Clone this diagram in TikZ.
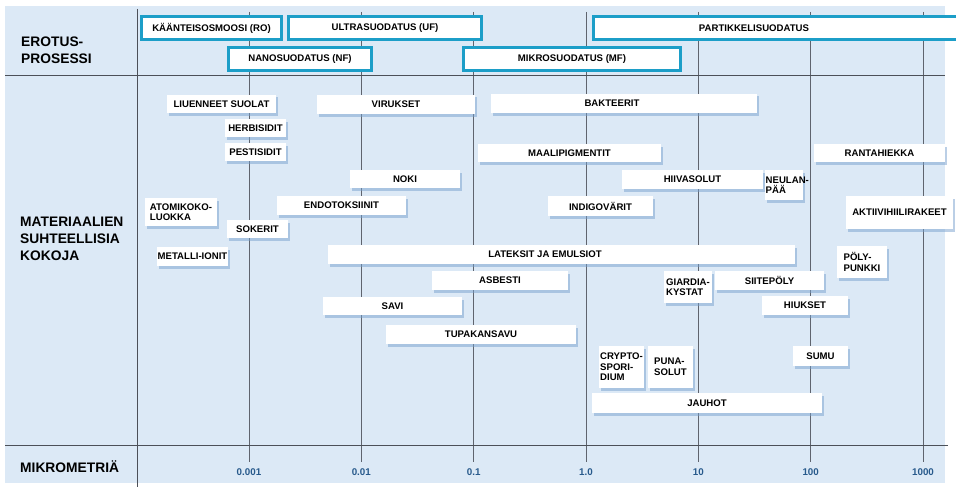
\documentclass[tikz,border=0pt]{standalone}
\usepackage{fontspec}
\setmainfont{Liberation Sans}
\usetikzlibrary{shadows}
\definecolor{panelc}{RGB}{220,233,246}
\definecolor{gridc}{RGB}{95,100,110}
\definecolor{procc}{RGB}{28,158,200}
\definecolor{shadc}{RGB}{120,160,205}
\definecolor{tickc}{RGB}{40,90,140}
\newcommand\bxf{\fontsize{9.6}{10.6}\selectfont\bfseries}
\newcommand\sdf{\fontsize{13.8}{17}\selectfont\bfseries}
\newcommand\tkf{\fontsize{9.8}{11}\selectfont\bfseries}
\tikzset{
  gridl/.style={draw=gridc, line width=0.7pt},
  divl/.style={draw=gridc!80!black, line width=1pt},
  procbox/.style={draw=procc, line width=3pt, fill=white, inner sep=0pt, font=\bxf},
  matbox/.style={fill=white, inner sep=1pt, font=\bxf, align=left,
    drop shadow={shadow xshift=2pt, shadow yshift=-2.5pt, fill=shadc, opacity=0.5}},
  mtext/.style={font=\bxf, inner sep=0pt, align=left},
  sidelab/.style={font=\sdf, anchor=west, align=left, inner sep=0pt},
  ticklab/.style={font=\tkf, text=tickc, inner sep=0pt},
}
\begin{document}
\begin{tikzpicture}[x=1pt,y=-1pt]
\useasboundingbox (0,0) rectangle (965,492);
% panel
\fill[panelc] (5,6) rectangle (945,483);
% grid lines
\foreach \k/\nm in {0/g1,1/g2,2/g3,3/g4,4/g5,5/g6,6/g7}{
  \coordinate (\nm t) at ({249+112.33*\k},12);
  \coordinate (\nm b) at ({249+112.33*\k},462);
  \draw[gridl] (\nm t) -- (\nm b);
}
% dividers
\coordinate (h1a) at (5,76);  \coordinate (h1b) at (945,76);
\coordinate (h2a) at (5,445); \coordinate (h2b) at (948,445);
\coordinate (vsa) at (137,9); \coordinate (vsb) at (137,487);
\draw[divl] (h1a) -- (h1b);
\draw[divl] (h2a) -- (h2b);
\draw[divl] (vsa) -- (vsb);
% process boxes
\node[procbox, minimum width=140pt, minimum height=23pt] (ro) at (211.5,28) {KÄÄNTEISOSMOOSI (RO)};
\node[procbox, minimum width=193pt, minimum height=23pt] (uf) at (385,28) {ULTRASUODATUS (UF)};
\node[procbox, minimum width=143pt, minimum height=23pt] (nf) at (300,59) {NANOSUODATUS (NF)};
\node[procbox, minimum width=217pt, minimum height=23pt] (mf) at (572,59) {MIKROSUODATUS (MF)};
\coordinate (pa) at (956,16.5); \coordinate (pb) at (593.5,16.5);
\coordinate (pc) at (593.5,39.5); \coordinate (pd) at (956,39.5);
\fill[white] (pa) -- (pb) -- (pc) -- (pd) -- cycle;
\draw[draw=procc, line width=3pt] (pa) -- (pb) -- (pc) -- (pd);
\node[mtext] (pf) at (754,28) {PARTIKKELISUODATUS};
% material boxes
\node[matbox, minimum width=109pt, minimum height=18pt] (m1) at (221.5,104) {LIUENNEET SUOLAT};
\node[matbox, minimum width=158pt, minimum height=19pt] (m2) at (396,104.5) {VIRUKSET};
\node[matbox, minimum width=266pt, minimum height=19pt] (m3) at (624,103.5) {};
\node[mtext] (m3t) at (612,103.5) {BAKTEERIT};
\node[matbox, minimum width=61pt, minimum height=18pt] (m4) at (255.5,128) {HERBISIDIT};
\node[matbox, minimum width=61pt, minimum height=18pt] (m5) at (255.5,152) {PESTISIDIT};
\node[matbox, minimum width=183pt, minimum height=18pt] (m6) at (569.5,153) {MAALIPIGMENTIT};
\node[matbox, minimum width=131pt, minimum height=18pt] (m7) at (879.5,153) {RANTAHIEKKA};
\node[matbox, minimum width=110pt, minimum height=18pt] (m8) at (405,179) {NOKI};
\node[matbox, minimum width=141pt, minimum height=19pt] (m9) at (692.5,179.5) {HIIVASOLUT};
\node[matbox, minimum width=38pt, minimum height=30pt] (m10) at (784,185) {};
\node[mtext, anchor=west] (m10t) at (765.5,185) {NEULAN-\\PÄÄ};
\node[matbox, minimum width=129pt, minimum height=19pt] (m11) at (341.5,205.5) {ENDOTOKSIINIT};
\node[matbox, minimum width=105pt, minimum height=20pt] (m12) at (600.5,206) {INDIGOVÄRIT};
\node[matbox, minimum width=72pt, minimum height=28pt] (m13) at (181,212) {ATOMIKOKO-\\LUOKKA};
\node[matbox, minimum width=107pt, minimum height=33pt] (m14) at (899.5,212.5) {AKTIIVIHIILIRAKEET};
\node[matbox, minimum width=61pt, minimum height=18pt] (m15) at (257.5,229) {SOKERIT};
\node[matbox, minimum width=71pt, minimum height=19pt] (m16) at (192.5,256.5) {METALLI-IONIT};
\node[matbox, minimum width=467pt, minimum height=19pt] (m17) at (561.5,254.5) {};
\node[mtext] (m17t) at (545,254.5) {LATEKSIT JA EMULSIOT};
\node[matbox, minimum width=50pt, minimum height=32pt] (m18) at (862,262) {PÖLY-\\PUNKKI};
\node[matbox, minimum width=136pt, minimum height=19pt] (m19) at (500,280.5) {ASBESTI};
\node[matbox, minimum width=48pt, minimum height=32pt] (m20) at (688,287) {GIARDIA-\\KYSTAT};
\node[matbox, minimum width=109pt, minimum height=19pt] (m21) at (769.5,280.5) {SIITEPÖLY};
\node[matbox, minimum width=139pt, minimum height=18pt] (m22) at (392.5,306) {SAVI};
\node[matbox, minimum width=86pt, minimum height=19pt] (m23) at (805,305.5) {HIUKSET};
\node[matbox, minimum width=190pt, minimum height=19pt] (m24) at (481,334.5) {TUPAKANSAVU};
\node[matbox, minimum width=45pt, minimum height=42pt] (m25) at (621.5,367) {};
\node[mtext, anchor=west] (m25t) at (600,367) {CRYPTO-\\SPORI-\\DIUM};
\node[matbox, minimum width=45pt, minimum height=42pt] (m26) at (670.5,367) {PUNA-\\SOLUT};
\node[matbox, minimum width=55pt, minimum height=20pt] (m27) at (820.5,356) {SUMU};
\node[matbox, minimum width=230pt, minimum height=20pt] (m28) at (707,403) {JAUHOT};
% side labels
\node[sidelab] (s1) at (21,50.5) {EROTUS-\\PROSESSI};
\node[sidelab] (s2) at (20,238.5) {MATERIAALIEN\\SUHTEELLISIA\\KOKOJA};
\node[sidelab] (s3) at (20,467) {MIKROMETRIÄ};
% tick labels
\node[ticklab] (k1) at (249,472) {0.001};
\node[ticklab] (k2) at (361.3,472) {0.01};
\node[ticklab] (k3) at (473.7,472) {0.1};
\node[ticklab] (k4) at (586,472) {1.0};
\node[ticklab] (k5) at (698.3,472) {10};
\node[ticklab] (k6) at (810.7,472) {100};
\node[ticklab] (k7) at (923,472) {1000};
\end{tikzpicture}
\end{document}
